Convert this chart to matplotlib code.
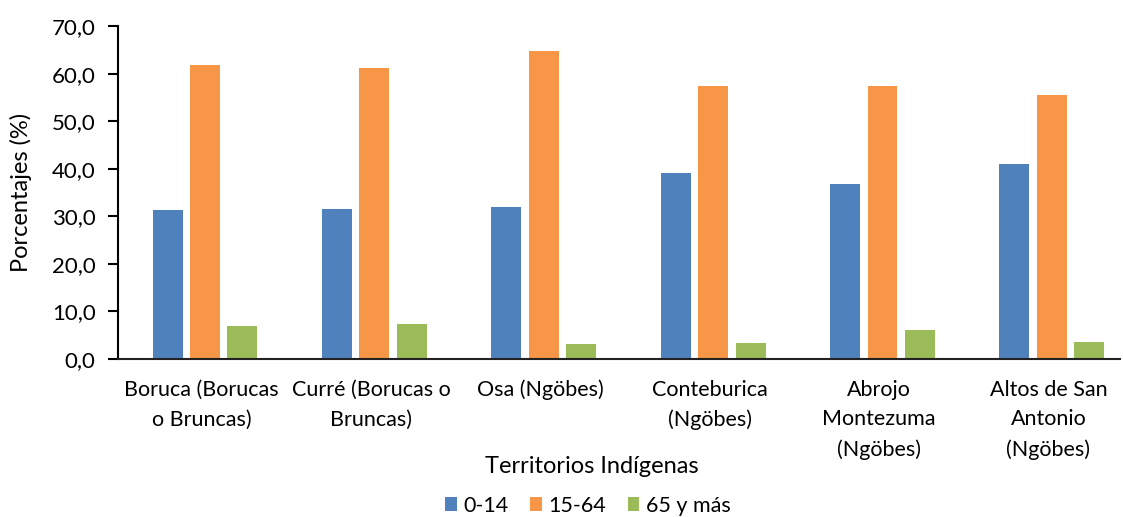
import matplotlib
matplotlib.use("Agg")
import matplotlib.pyplot as plt
import numpy as np
from matplotlib.ticker import FuncFormatter

categories = ["Boruca (Borucas\no Bruncas)", "Curré (Borucas o\nBruncas)", "Osa (Ngöbes)",
              "Conteburica\n(Ngöbes)", "Abrojo\nMontezuma\n(Ngöbes)", "Altos de San\nAntonio\n(Ngöbes)"]
series_names = ["0-14", "15-64", "65 y más"]
v_0_14 = [31.4, 31.5, 32.0, 39.1, 36.7, 40.9]
v_15_64 = [61.8, 61.1, 64.8, 57.5, 57.5, 55.6]
v_65 = [6.9, 7.4, 3.1, 3.4, 6.1, 3.5]
colors = ["#4F81BD", "#F79646", "#9BBB59"]

plt.rcParams['font.family'] = ['Lato', 'DejaVu Sans']
fig = plt.figure(figsize=(11.23, 5.17), dpi=100)
ax = fig.add_axes([0.105, 0.3056, 0.892, 0.644])

x = np.arange(len(categories))
w = 0.177
step = 0.221
for i, (vals, c, name) in enumerate(zip([v_0_14, v_15_64, v_65], colors, series_names)):
    ax.bar(x + (i - 1) * step + 0.02, vals, width=w, color=c, label=name, zorder=2)

ax.set_xlim(-0.494, 5.42)
ax.set_ylim(0, 70)
ax.set_yticks(np.arange(0, 71, 10))
ax.yaxis.set_major_formatter(FuncFormatter(lambda v, p: f"{v:.1f}".replace(".", ",")))
ax.set_xticks(x)
ax.set_xticklabels(categories, fontsize=15.5, linespacing=1.6, va='top')
ax.tick_params(axis='x', length=0, pad=15)
ax.tick_params(axis='y', labelsize=16, length=7, width=1.5, direction='out', pad=9)
for s in ['top', 'right']:
    ax.spines[s].set_visible(False)
ax.spines['left'].set_linewidth(1.5)
ax.spines['bottom'].set_linewidth(1.5)
ax.spines['bottom'].set_color('#222222')
ax.set_ylabel("Porcentajes (%)", fontsize=17, labelpad=14)
fig.text(0.527, 0.097, "Territorios Indígenas", ha='center', va='center', fontsize=17)
ax.legend(loc='center', bbox_to_anchor=(0.469, -0.44), ncol=3, frameon=False, fontsize=15.5,
          handlelength=0.55, handleheight=0.6, handletextpad=0.3, columnspacing=1.0)
fig.savefig("out.png", dpi=100)
